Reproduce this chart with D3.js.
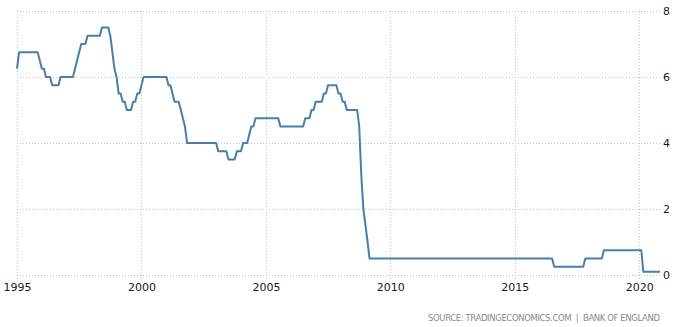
<!DOCTYPE html>
<meta charset="utf-8">
<html>
	<head>
		<script src="https://d3js.org/d3.v7.min.js"></script>
		<style>
			body { margin: 0; background: #fff; }
			svg { display: block; font-family: "DejaVu Sans", Verdana, sans-serif; }
		</style>
	</head>
	<body>
		<script>
			// Bank of England base rate, monthly (Jan 1995 - Nov 2020)
			var startYear = 1995;
			var rates = [
				6.25, 6.75, 6.75, 6.75, 6.75, 6.75, 6.75, 6.75, 6.75, 6.75, 6.75, 6.5,   // 1995
				6.25, 6.25, 6.0, 6.0, 6.0, 5.75, 5.75, 5.75, 5.75, 6.0, 6.0, 6.0,        // 1996
				6.0, 6.0, 6.0, 6.0, 6.25, 6.5, 6.75, 7.0, 7.0, 7.0, 7.25, 7.25,          // 1997
				7.25, 7.25, 7.25, 7.25, 7.25, 7.5, 7.5, 7.5, 7.5, 7.25, 6.75, 6.25,      // 1998
				6.0, 5.5, 5.5, 5.25, 5.25, 5.0, 5.0, 5.0, 5.25, 5.25, 5.5, 5.5,          // 1999
				5.75, 6.0, 6.0, 6.0, 6.0, 6.0, 6.0, 6.0, 6.0, 6.0, 6.0, 6.0,             // 2000
				6.0, 5.75, 5.75, 5.5, 5.25, 5.25, 5.25, 5.0, 4.75, 4.5, 4.0, 4.0,        // 2001
				4.0, 4.0, 4.0, 4.0, 4.0, 4.0, 4.0, 4.0, 4.0, 4.0, 4.0, 4.0,              // 2002
				4.0, 3.75, 3.75, 3.75, 3.75, 3.75, 3.5, 3.5, 3.5, 3.5, 3.75, 3.75,       // 2003
				3.75, 4.0, 4.0, 4.0, 4.25, 4.5, 4.5, 4.75, 4.75, 4.75, 4.75, 4.75,       // 2004
				4.75, 4.75, 4.75, 4.75, 4.75, 4.75, 4.75, 4.5, 4.5, 4.5, 4.5, 4.5,       // 2005
				4.5, 4.5, 4.5, 4.5, 4.5, 4.5, 4.5, 4.75, 4.75, 4.75, 5.0, 5.0,           // 2006
				5.25, 5.25, 5.25, 5.25, 5.5, 5.5, 5.75, 5.75, 5.75, 5.75, 5.75, 5.5,     // 2007
				5.5, 5.25, 5.25, 5.0, 5.0, 5.0, 5.0, 5.0, 5.0, 4.5, 3.0, 2.0,            // 2008
				1.5, 1.0, 0.5, 0.5, 0.5, 0.5, 0.5, 0.5, 0.5, 0.5, 0.5, 0.5,              // 2009
				0.5, 0.5, 0.5, 0.5, 0.5, 0.5, 0.5, 0.5, 0.5, 0.5, 0.5, 0.5,              // 2010
				0.5, 0.5, 0.5, 0.5, 0.5, 0.5, 0.5, 0.5, 0.5, 0.5, 0.5, 0.5,              // 2011
				0.5, 0.5, 0.5, 0.5, 0.5, 0.5, 0.5, 0.5, 0.5, 0.5, 0.5, 0.5,              // 2012
				0.5, 0.5, 0.5, 0.5, 0.5, 0.5, 0.5, 0.5, 0.5, 0.5, 0.5, 0.5,              // 2013
				0.5, 0.5, 0.5, 0.5, 0.5, 0.5, 0.5, 0.5, 0.5, 0.5, 0.5, 0.5,              // 2014
				0.5, 0.5, 0.5, 0.5, 0.5, 0.5, 0.5, 0.5, 0.5, 0.5, 0.5, 0.5,              // 2015
				0.5, 0.5, 0.5, 0.5, 0.5, 0.5, 0.5, 0.25, 0.25, 0.25, 0.25, 0.25,         // 2016
				0.25, 0.25, 0.25, 0.25, 0.25, 0.25, 0.25, 0.25, 0.25, 0.25, 0.5, 0.5,    // 2017
				0.5, 0.5, 0.5, 0.5, 0.5, 0.5, 0.5, 0.75, 0.75, 0.75, 0.75, 0.75,         // 2018
				0.75, 0.75, 0.75, 0.75, 0.75, 0.75, 0.75, 0.75, 0.75, 0.75, 0.75, 0.75,  // 2019
				0.75, 0.75, 0.1, 0.1, 0.1, 0.1, 0.1, 0.1, 0.1, 0.1, 0.1                  // 2020
			];
			var xTicks = [1995, 2000, 2005, 2010, 2015, 2020];
			var yTicks = [0, 2, 4, 6, 8];
			var source = "SOURCE: TRADINGECONOMICS.COM \u00a0|\u00a0 BANK OF ENGLAND";

			var data = rates.map(function(v, i) {
				return { date: new Date(startYear + Math.floor(i / 12), i % 12, 1), value: v };
			});

			var width = 680, height = 327;
			var m = {left: 17, right: 660, top: 11, bottom: 275};

			var svg = d3.select("body").append("svg")
				.attr("width", width)
				.attr("height", height);

			var x = d3.scaleTime()
				.domain([new Date(1995, 0, 1), new Date(2020, 10, 1)])
				.range([m.left, m.right]);

			var y = d3.scaleLinear()
				.domain([0, 8])
				.range([m.bottom, m.top]);

			// horizontal grid
			svg.append("g").selectAll("line")
				.data(yTicks)
				.enter().append("line")
					.attr("x1", m.left)
					.attr("x2", m.right)
					.attr("y1", function(d) { return Math.round(y(d)) + 0.5; })
					.attr("y2", function(d) { return Math.round(y(d)) + 0.5; })
					.attr("stroke", "#c4c4c4")
					.attr("stroke-dasharray", "1,2");

			// vertical grid
			svg.append("g").selectAll("line")
				.data(xTicks)
				.enter().append("line")
					.attr("x1", function(d) { return Math.round(x(new Date(d, 0, 1))) + 0.5; })
					.attr("x2", function(d) { return Math.round(x(new Date(d, 0, 1))) + 0.5; })
					.attr("y1", m.top)
					.attr("y2", m.bottom + 4)
					.attr("stroke", "#c4c4c4")
					.attr("stroke-dasharray", "1,2");

			// x labels
			svg.append("g").selectAll("text")
				.data(xTicks)
				.enter().append("text")
					.attr("x", function(d) { return x(new Date(d, 0, 1)) + 0.5; })
					.attr("y", 291)
					.attr("text-anchor", "middle")
					.attr("font-size", 11)
					.attr("fill", "#1a1a1a")
					.text(function(d) { return d; });

			// y labels
			svg.append("g").selectAll("text")
				.data(yTicks)
				.enter().append("text")
					.attr("x", 663)
					.attr("y", function(d) { return y(d); })
					.attr("dy", "0.38em")
					.attr("font-size", 11)
					.attr("fill", "#1a1a1a")
					.text(function(d) { return d; });

			// the line
			var line = d3.line()
				.x(function(d) { return x(d.date); })
				.y(function(d) { return y(d.value); });

			svg.append("path")
				.datum(data)
				.attr("fill", "none")
				.attr("stroke", "#4a7eac")
				.attr("stroke-width", 2)
				.attr("stroke-linejoin", "round")
				.attr("d", line);

			// source note
			svg.append("text")
				.attr("x", 660)
				.attr("y", 321)
				.attr("text-anchor", "end")
				.attr("font-size", 8.5)
				.attr("fill", "#8a8a8a")
				.attr("textLength", 232)
				.attr("lengthAdjust", "spacing")
				.text(source);
		</script>
	</body>
</html>
